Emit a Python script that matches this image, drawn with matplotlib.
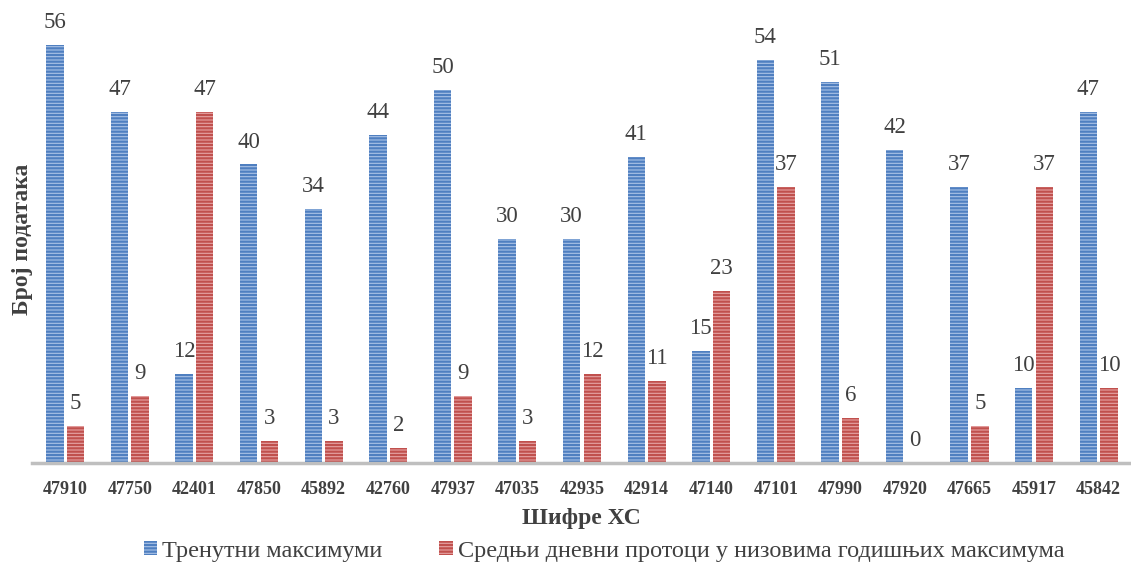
import matplotlib
matplotlib.use("Agg")
import matplotlib.pyplot as plt
import numpy as np

categories = ["47910", "47750", "42401", "47850", "45892", "42760", "47937", "47035",
              "42935", "42914", "47140", "47101", "47990", "47920", "47665", "45917", "45842"]
trenutni = [56, 47, 12, 40, 34, 44, 50, 30, 30, 41, 15, 54, 51, 42, 37, 10, 47]
srednji = [5, 9, 47, 3, 3, 2, 9, 3, 12, 11, 23, 37, 6, 0, 5, 37, 10]

plt.rcParams['font.family'] = ['Liberation Serif', 'DejaVu Serif']
plt.rcParams['hatch.linewidth'] = 1.6

fig = plt.figure(figsize=(11.31, 5.62), dpi=100)
ax = fig.add_axes([0.028, 0.176, 0.972, 0.797])

x = np.arange(len(categories))
w = 0.27
gap = 0.025
b1 = ax.bar(x - w/2 - gap, trenutni, w, facecolor='#A9C2E6', edgecolor='#4F7FC0',
            hatch='-----', linewidth=0, label='Тренутни максимуми')
b2 = ax.bar(x + w/2 + gap, srednji, w, facecolor='#E6A3A3', edgecolor='#C0504D',
            hatch='-----', linewidth=0, label='Средњи дневни протоци у низовима годишњих максимума')

for rect, v in zip(b1, trenutni):
    ax.text(rect.get_x() + rect.get_width()/2, v + 1.6, str(v), ha='center', va='bottom',
            fontsize=16.5, color='#404040')
for rect, v in zip(b2, srednji):
    ax.text(rect.get_x() + rect.get_width()/2, v + 1.6, str(v), ha='center', va='bottom',
            fontsize=16.5, color='#404040')

ax.set_xlim(-0.52, len(categories) - 0.5)
ax.set_ylim(0, 60)
ax.set_yticks([])
ax.set_xticks(x)
ax.set_xticklabels(categories, fontsize=13, fontweight='bold', color='#404040')
ax.tick_params(axis='x', length=0, pad=13)
for s in ['top', 'right', 'left']:
    ax.spines[s].set_visible(False)
ax.spines['bottom'].set_color('#BFBFBF')
ax.spines['bottom'].set_linewidth(2.5)

ax.set_xlabel('Шифре ХС', fontsize=17, fontweight='bold', color='#404040', labelpad=7)
ax.set_ylabel('Број података', fontsize=17, fontweight='bold', color='#404040', labelpad=-1)

fig.legend(handles=[b1, b2], loc='lower center', bbox_to_anchor=(0.534, -0.039), ncol=2,
           frameon=False, fontsize=17.5, labelcolor='#404040', handlelength=0.55,
           handleheight=0.5, handletextpad=0.2, columnspacing=2.35)

fig.savefig('out.png', dpi=100)
